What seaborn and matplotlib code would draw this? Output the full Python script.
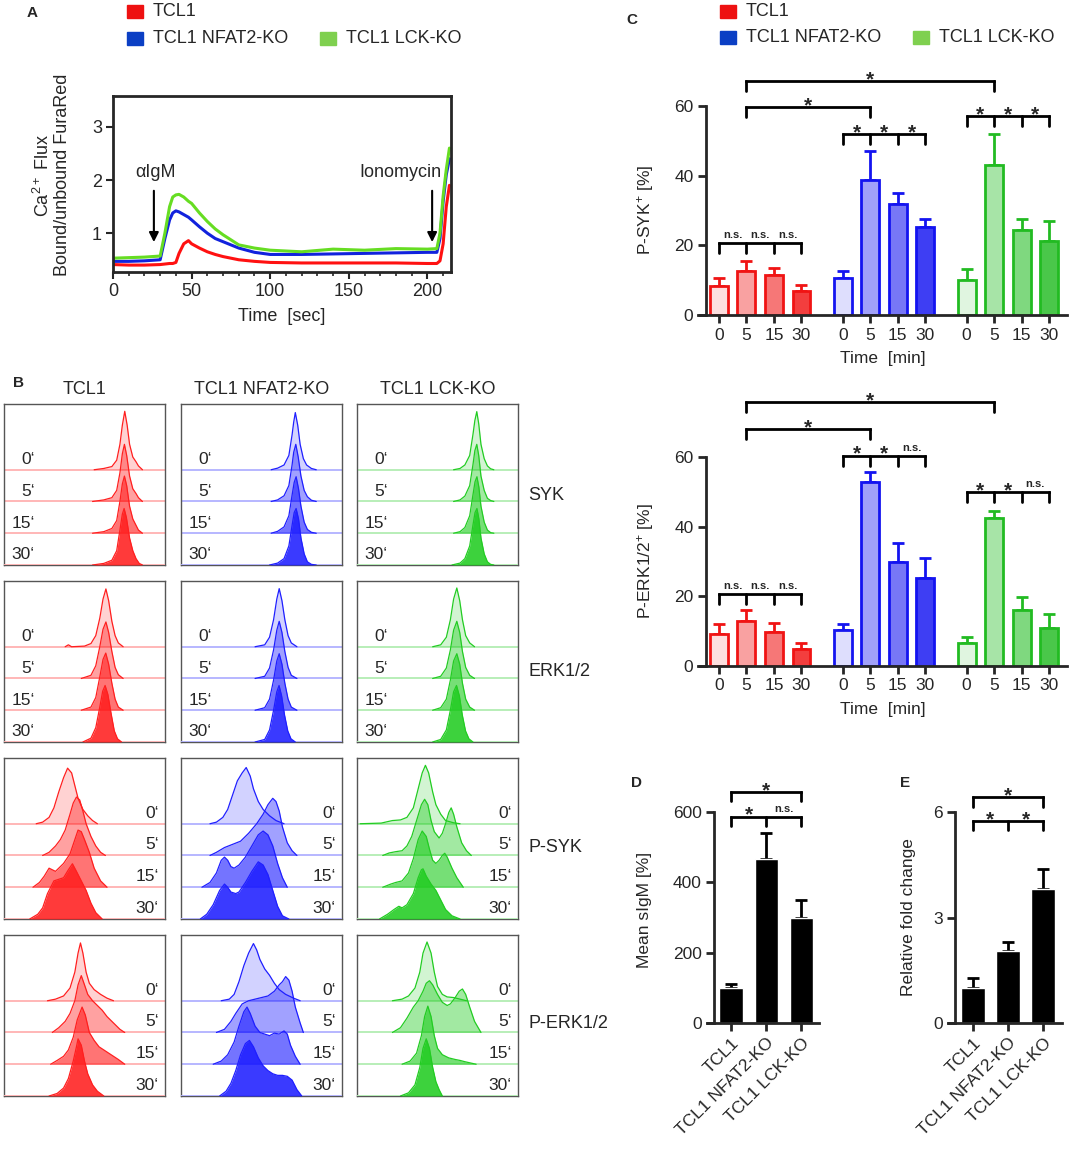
import matplotlib
matplotlib.use("Agg")
import matplotlib.pyplot as plt
from matplotlib.patches import Rectangle
from matplotlib.colors import to_rgb
import numpy as np
import seaborn as sns

W, H = 1069, 1152

# ---------------- data ----------------
GENOTYPES = ["TCL1", "TCL1 NFAT2-KO", "TCL1 LCK-KO"]
TIMES = ["0", "5", "15", "30"]
TIME_LABELS = ["0\u2018", "5\u2018", "15\u2018", "30\u2018"]
MARKERS = ["SYK", "ERK1/2", "P-SYK", "P-ERK1/2"]

# panel A: calcium flux
CA_TIME = [0, 10, 20, 30, 33, 36, 38, 40, 42, 45, 48, 50, 55, 60, 65, 70, 80, 90, 100,
           120, 140, 160, 180, 200, 206, 208, 210, 212, 214]
CA_TCL1 = [0.41, 0.40, 0.40, 0.41, 0.42, 0.43, 0.43, 0.45, 0.62, 0.80, 0.86, 0.80, 0.72, 0.65,
           0.60, 0.56, 0.50, 0.47, 0.45, 0.44, 0.44, 0.44, 0.44, 0.43, 0.43, 0.48, 0.80, 1.50, 1.90]
CA_NFAT2 = [0.47, 0.47, 0.48, 0.50, 0.90, 1.25, 1.38, 1.42, 1.40, 1.35, 1.30, 1.25, 1.12, 1.00,
            0.90, 0.84, 0.72, 0.64, 0.60, 0.60, 0.61, 0.62, 0.63, 0.64, 0.64, 0.90, 1.60, 2.10, 2.40]
CA_LCK = [0.53, 0.54, 0.55, 0.57, 1.00, 1.50, 1.68, 1.72, 1.73, 1.68, 1.60, 1.56, 1.38, 1.22,
          1.08, 0.97, 0.78, 0.72, 0.68, 0.65, 0.70, 0.68, 0.71, 0.70, 0.71, 1.00, 1.70, 2.20, 2.60]

# panel C: % positive cells (mean, sem), order TCL1 0/5/15/30, NFAT2 ..., LCK ...
PSYK_MEAN = [8.3, 12.6, 11.6, 6.9, 10.6, 38.8, 31.9, 25.4, 10.0, 43.1, 24.3, 21.2]
PSYK_SEM = [2.4, 2.8, 1.8, 1.8, 2.0, 8.3, 3.2, 2.1, 3.3, 8.9, 3.2, 5.9]
PERK_MEAN = [9.2, 13.0, 9.7, 5.0, 10.4, 52.8, 30.0, 25.2, 6.5, 42.6, 16.1, 11.0]
PERK_SEM = [2.8, 3.1, 2.6, 1.7, 1.7, 2.8, 5.4, 5.8, 1.8, 1.8, 3.7, 3.9]

# panels D / E
SIGM_MEAN = [99, 467, 300]
SIGM_SEM = [13, 73, 51]
FOLD_MEAN = [0.99, 2.04, 3.81]
FOLD_SEM = [0.29, 0.26, 0.57]

# panel B: flow histograms, 4 curves (0', 5', 15', 30') of (x %, height) points
SYK_TCL1 = [
    [(56, 0), (62, 0.04), (67, 0.1), (70, 0.3), (72, 0.8), (73.5, 1.4), (75, 1.84), (76.5, 1.4), (78, 0.8), (80, 0.4), (82, 0.25), (83.5, 0.12), (86, 0)],
    [(55, 0), (62, 0.05), (67, 0.12), (70, 0.35), (72, 0.9), (73.5, 1.5), (74.8, 1.8), (76.2, 1.45), (78, 0.8), (80, 0.4), (82, 0.25), (83.5, 0.12), (86, 0)],
    [(55, 0), (62, 0.05), (67, 0.15), (70, 0.4), (72, 1.0), (73.5, 1.55), (74.8, 1.8), (76.2, 1.5), (78, 0.85), (80, 0.45), (82, 0.25), (83.5, 0.1), (86, 0)],
    [(55, 0), (62, 0.05), (67, 0.15), (70, 0.45), (72, 1.1), (73.5, 1.6), (74.6, 1.78), (76, 1.5), (78, 0.85), (80, 0.45), (82, 0.2), (84, 0.05), (86, 0)],
]
SYK_NFAT2 = [
    [(56, 0), (60, 0.05), (64, 0.15), (67, 0.45), (69, 1.1), (70, 1.5), (71, 1.8), (72.5, 1.4), (74, 0.8), (76, 0.35), (78, 0.15), (81, 0.04), (84, 0)],
    [(56, 0), (60, 0.05), (64, 0.18), (67, 0.5), (69, 1.15), (70, 1.55), (71.3, 1.8), (72.8, 1.4), (74.5, 0.8), (76.5, 0.35), (78.5, 0.15), (81, 0.04), (84, 0)],
    [(56, 0), (60, 0.06), (64, 0.2), (67, 0.55), (69, 1.2), (70.3, 1.6), (71.5, 1.78), (73, 1.4), (74.5, 0.85), (76.5, 0.35), (78.5, 0.12), (81, 0.03), (84, 0)],
    [(55, 0), (60, 0.06), (64, 0.2), (67, 0.6), (69, 1.25), (70.3, 1.65), (71.5, 1.78), (73, 1.45), (74.5, 0.85), (76.5, 0.35), (78.5, 0.1), (81, 0.02), (84, 0)],
]
SYK_LCK = [
    [(60, 0), (64, 0.04), (67, 0.15), (70, 0.45), (72, 1.1), (73.2, 1.55), (74.4, 1.83), (75.6, 1.45), (77, 0.8), (79, 0.35), (81, 0.12), (83, 0.03), (85, 0)],
    [(60, 0), (64, 0.05), (67, 0.17), (70, 0.5), (72, 1.15), (73.2, 1.6), (74.4, 1.8), (75.6, 1.45), (77, 0.8), (79, 0.35), (81, 0.1), (83, 0.03), (85, 0)],
    [(60, 0), (64, 0.05), (67, 0.18), (70, 0.55), (72, 1.2), (73.3, 1.62), (74.5, 1.78), (75.7, 1.45), (77, 0.85), (79, 0.35), (81, 0.1), (83, 0.02), (85, 0)],
    [(59, 0), (64, 0.06), (67, 0.2), (70, 0.6), (72, 1.25), (73.3, 1.65), (74.5, 1.78), (75.7, 1.45), (77, 0.85), (79, 0.35), (81, 0.1), (83, 0.02), (85, 0)],
]
ERK_TCL1 = [
    [(38, 0), (40, 0.06), (42, 0), (50, 0.02), (54, 0.1), (57, 0.35), (59.5, 0.9), (61.5, 1.5), (63.3, 1.82), (65, 1.45), (67, 0.8), (69, 0.35), (71, 0.12), (74, 0)],
    [(48, 0), (54, 0.1), (57, 0.4), (59.5, 1.0), (61.5, 1.55), (63.3, 1.78), (65, 1.45), (67, 0.85), (69, 0.35), (71, 0.12), (74, 0)],
    [(48, 0), (54, 0.1), (57, 0.4), (59.5, 1.05), (61.5, 1.6), (63.2, 1.8), (65, 1.45), (67, 0.85), (69, 0.35), (71, 0.1), (74, 0)],
    [(49, 0), (54, 0.12), (57, 0.45), (59.5, 1.1), (61.3, 1.6), (62.8, 1.78), (64.5, 1.5), (66.5, 0.9), (68.5, 0.35), (70.5, 0.1), (73, 0)],
]
ERK_NFAT2 = [
    [(46, 0), (52, 0.06), (55, 0.3), (57.5, 0.85), (59.5, 1.5), (61, 1.83), (62.7, 1.45), (64.5, 0.85), (66.5, 0.35), (68.5, 0.12), (72, 0)],
    [(46, 0), (52, 0.07), (55, 0.33), (57.5, 0.9), (59.5, 1.52), (61, 1.8), (62.7, 1.45), (64.5, 0.85), (66.5, 0.35), (68.5, 0.1), (72, 0)],
    [(46, 0), (52, 0.08), (55, 0.35), (57.5, 0.95), (59.5, 1.55), (61, 1.78), (62.7, 1.45), (64.5, 0.85), (66.5, 0.35), (68.5, 0.1), (72, 0)],
    [(46, 0), (52, 0.08), (55, 0.38), (57.5, 1.0), (59.5, 1.58), (60.9, 1.78), (62.5, 1.45), (64.3, 0.85), (66.3, 0.35), (68.3, 0.1), (71, 0)],
]
ERK_LCK = [
    [(47, 0), (52, 0.06), (55.5, 0.3), (58, 0.85), (60, 1.5), (62, 1.85), (63.8, 1.45), (65.5, 0.85), (67.5, 0.35), (70, 0.12), (73, 0)],
    [(47, 0), (52, 0.07), (55.5, 0.33), (58, 0.9), (60, 1.52), (62, 1.8), (63.8, 1.45), (65.5, 0.85), (67.5, 0.35), (70, 0.1), (73, 0)],
    [(47, 0), (52, 0.08), (55.5, 0.35), (58, 0.95), (60, 1.55), (62, 1.78), (63.8, 1.45), (65.5, 0.85), (67.5, 0.35), (70, 0.1), (73, 0)],
    [(47, 0), (52, 0.08), (55.5, 0.38), (58, 1.0), (60, 1.58), (61.8, 1.78), (63.6, 1.45), (65.4, 0.85), (67.4, 0.35), (69.5, 0.1), (72, 0)],
]
PSYK_TCL1 = [
    [(20, 0), (24, 0.05), (28, 0.2), (31, 0.5), (34, 1.0), (37, 1.45), (39.5, 1.75), (42, 1.6), (44, 1.2), (46, 0.8), (49, 0.45), (52, 0.25), (55, 0.1), (58, 0)],
    [(24, 0), (28, 0.1), (32, 0.3), (35, 0.5), (38, 0.8), (41, 1.3), (43, 1.65), (45, 1.84), (47, 1.75), (49, 1.4), (51, 1.0), (54, 0.6), (57, 0.3), (60, 0.1), (63, 0)],
    [(18, 0), (22, 0.15), (25, 0.35), (28, 0.6), (30, 0.55), (32, 0.5), (34, 0.6), (37, 0.75), (41, 1.05), (44, 1.5), (46, 1.8), (48, 1.75), (50, 1.5), (53, 1.1), (56, 0.6), (60, 0.2), (64, 0)],
    [(16, 0), (21, 0.15), (24, 0.35), (27, 0.8), (31, 1.2), (34, 1.25), (37, 1.3), (40, 1.55), (42.5, 1.74), (45, 1.5), (48, 1.2), (51, 0.9), (54, 0.5), (57, 0.2), (61, 0)],
]
PSYK_NFAT2 = [
    [(18, 0), (22, 0.05), (26, 0.2), (29, 0.45), (32, 0.9), (35, 1.35), (38, 1.6), (40.5, 1.77), (43, 1.5), (45, 1.1), (48, 0.7), (51, 0.45), (55, 0.25), (59, 0.1), (64, 0)],
    [(18, 0), (22, 0.1), (27, 0.25), (32, 0.35), (37, 0.45), (42, 0.7), (47, 1.0), (51, 1.3), (54, 1.6), (57, 1.8), (59, 1.7), (61, 1.4), (63, 0.9), (66, 0.4), (69, 0.15), (72, 0)],
    [(13, 0), (18, 0.15), (22, 0.45), (25, 0.85), (27, 0.95), (29, 0.85), (31, 0.65), (33, 0.6), (36, 0.7), (40, 0.95), (44, 1.3), (48, 1.65), (51, 1.77), (54, 1.65), (57, 1.3), (60, 0.75), (63, 0.3), (66, 0)],
    [(12, 0), (16, 0.15), (20, 0.45), (24, 0.9), (27, 1.1), (29, 1.0), (31, 0.85), (34, 0.8), (36, 0.85), (40, 1.15), (44, 1.5), (48, 1.8), (51, 1.7), (54, 1.4), (57, 0.9), (60, 0.4), (63, 0.1), (67, 0)],
]
PSYK_LCK = [
    [(2, 0), (15, 0.02), (22, 0.1), (27, 0.12), (31, 0.2), (35, 0.5), (38, 1.1), (40.5, 1.6), (42.5, 1.84), (44.5, 1.6), (47, 1.0), (49, 0.6), (52, 0.3), (55, 0.1), (60, 0.03), (64, 0)],
    [(16, 0), (20, 0.08), (24, 0.12), (28, 0.15), (31, 0.3), (34, 0.6), (37, 1.1), (40, 1.6), (42, 1.77), (44, 1.6), (46, 1.1), (48, 0.75), (51, 0.55), (53, 0.7), (55, 1.0), (57, 1.35), (58.5, 1.5), (60, 1.3), (62, 0.9), (65, 0.4), (68, 0.15), (71, 0)],
    [(16, 0), (21, 0.1), (24, 0.15), (28, 0.2), (32, 0.45), (35, 0.9), (38, 1.5), (40.5, 1.77), (43, 1.6), (45, 1.2), (47, 0.85), (49, 0.75), (51, 0.85), (53, 1.0), (54.5, 1.07), (56, 0.95), (59, 0.6), (62, 0.3), (66, 0)],
    [(14, 0), (19, 0.15), (23, 0.3), (26, 0.4), (28, 0.35), (31, 0.45), (35, 0.8), (38, 1.3), (40, 1.55), (41, 1.58), (43, 1.35), (46, 1.1), (49, 0.9), (52, 0.6), (55, 0.3), (59, 0.1), (64, 0)],
]
PERK_TCL1 = [
    [(27, 0), (32, 0.05), (37, 0.15), (41, 0.4), (44, 0.9), (46, 1.5), (47.5, 1.82), (49, 1.5), (51, 0.9), (53, 0.55), (56, 0.35), (60, 0.2), (64, 0.08), (68, 0)],
    [(30, 0), (34, 0.15), (38, 0.35), (41, 0.6), (44, 1.0), (46, 1.5), (48, 1.79), (50, 1.5), (52, 1.2), (55, 1.0), (58, 0.85), (61, 0.7), (64, 0.5), (68, 0.3), (72, 0.1), (75, 0)],
    [(29, 0), (33, 0.12), (37, 0.25), (40, 0.45), (43, 0.85), (45.5, 1.4), (48.5, 1.8), (50.5, 1.55), (53, 1.0), (56, 0.75), (59, 0.55), (62, 0.45), (65, 0.35), (68, 0.25), (71, 0.15), (75, 0)],
    [(28, 0), (33, 0.08), (37, 0.25), (40, 0.55), (43, 1.1), (45, 1.55), (46, 1.8), (48, 1.6), (50, 1.1), (52, 0.7), (55, 0.35), (58, 0.15), (62, 0)],
]
PERK_NFAT2 = [
    [(25, 0), (30, 0.05), (33, 0.2), (36, 0.6), (39, 1.1), (42, 1.5), (45, 1.8), (47, 1.6), (49, 1.3), (52, 1.0), (55, 0.8), (58, 0.55), (61, 0.35), (65, 0.2), (70, 0.08), (74, 0)],
    [(22, 0), (27, 0.1), (31, 0.35), (34, 0.6), (38, 0.9), (42, 1.0), (46, 1.05), (50, 1.1), (54, 1.15), (58, 1.3), (61, 1.5), (63, 1.6), (65, 1.76), (67, 1.65), (69, 1.3), (71, 0.8), (74, 0.3), (76, 0)],
    [(20, 0), (25, 0.1), (29, 0.3), (33, 0.7), (36, 1.2), (39, 1.65), (41, 1.8), (43, 1.6), (46, 1.2), (49, 1.0), (52, 0.95), (55, 0.9), (58, 0.98), (61, 0.95), (64, 1.05), (66, 0.95), (68, 0.6), (71, 0.25), (74, 0)],
    [(24, 0), (28, 0.15), (31, 0.4), (34, 0.8), (37, 1.3), (40, 1.65), (42.5, 1.75), (45, 1.55), (48, 1.2), (51, 0.95), (54, 0.8), (57, 0.7), (60, 0.65), (63, 0.65), (66, 0.62), (69, 0.5), (72, 0.2), (75, 0)],
]
PERK_LCK = [
    [(22, 0), (28, 0.05), (32, 0.15), (36, 0.4), (39, 0.9), (41, 1.5), (43.5, 1.85), (46, 1.5), (48, 0.9), (50, 0.45), (53, 0.2), (56, 0.12), (60, 0.1), (64, 0.05), (68, 0)],
    [(22, 0), (27, 0.15), (31, 0.45), (35, 0.8), (38, 1.0), (41, 1.3), (43, 1.55), (45, 1.63), (47, 1.5), (50, 1.2), (53, 0.95), (56, 0.85), (58, 0.9), (61, 1.1), (63.5, 1.3), (65.5, 1.37), (67.5, 1.2), (70, 0.8), (73, 0.35), (77, 0)],
    [(28, 0), (33, 0.1), (37, 0.35), (40, 0.9), (42, 1.5), (44, 1.83), (46, 1.5), (48, 0.9), (50, 0.5), (53, 0.3), (57, 0.2), (61, 0.15), (64, 0.12), (67, 0.08), (74, 0)],
    [(27, 0), (32, 0.1), (36, 0.35), (39, 0.9), (41, 1.5), (43, 1.8), (45, 1.5), (47, 0.9), (49, 0.45), (51, 0.2), (53, 0)],
]
HIST_ROWS = [
    [SYK_TCL1, SYK_NFAT2, SYK_LCK],
    [ERK_TCL1, ERK_NFAT2, ERK_LCK],
    [PSYK_TCL1, PSYK_NFAT2, PSYK_LCK],
    [PERK_TCL1, PERK_NFAT2, PERK_LCK],
]

# ---------------- style ----------------
sns.set_style("ticks")
plt.rcParams["font.family"] = ["Liberation Sans", "DejaVu Sans"]
plt.rcParams["mathtext.default"] = "regular"
plt.rcParams["axes.linewidth"] = 1.6

LEG_COLORS = ["#ee1111", "#0b3fc4", "#7fd04f"]
LINE_COLORS = ["#ff1111", "#1122dd", "#66dd22"]
BAR_EDGES = ["#f01414", "#1414f0", "#22bb22"]
HIST_COLORS = ["#ff1f1f", "#1f1fff", "#22cc22"]
BAR_ALPHA = [0.14, 0.4, 0.58, 0.82]
HIST_ALPHA = [0.2, 0.42, 0.62, 0.88]


def px_axes(fig, left, top, right, bottom):
    return fig.add_axes([left / W, 1 - bottom / H, (right - left) / W, (bottom - top) / H])


def ftext(fig, x, y, s, **kw):
    return fig.text(x / W, 1 - y / H, s, **kw)


def mix(color, a):
    c = np.array(to_rgb(color))
    return tuple(1 - a * (1 - c))


def legend_row(fig, x, y, color, label):
    fig.add_artist(Rectangle((x / W, 1 - (y + 13) / H), 16 / W, 13 / H,
                             transform=fig.transFigure, color=color))
    ftext(fig, x + 26, y + 6.5, label, fontsize=13, va="center", ha="left")


def bracket(ax, xs, y, tip, labels, star=15, ns=8):
    ax.plot([xs[0], xs[-1]], [y, y], color="k", lw=2, clip_on=False, solid_capstyle="projecting")
    for x in xs:
        ax.plot([x, x], [y, y - tip], color="k", lw=2, clip_on=False)
    for a, b, lab in zip(xs[:-1], xs[1:], labels):
        if lab == "*":
            ax.annotate(lab, ((a + b) / 2, y), xytext=(0, -3), textcoords="offset points",
                        ha="center", va="baseline", fontsize=star, fontweight="bold",
                        annotation_clip=False)
        else:
            ax.annotate(lab, ((a + b) / 2, y), xytext=(0, 2), textcoords="offset points",
                        ha="center", va="bottom", fontsize=ns, fontweight="bold",
                        annotation_clip=False)


fig = plt.figure(figsize=(W / 100, H / 100), dpi=100)

# ---------------- panel A ----------------
axA = px_axes(fig, 113, 96, 451, 272)
for vals, col in zip([CA_TCL1, CA_NFAT2, CA_LCK], LINE_COLORS):
    sns.lineplot(x=CA_TIME, y=vals, color=col, lw=2.2, ax=axA)
axA.set_xlim(0, 215)
axA.set_ylim(0.27, 3.58)
axA.set_xticks([0, 50, 100, 150, 200])
axA.set_xticks(range(0, 215, 10), minor=True)
axA.set_yticks([1, 2, 3])
axA.tick_params(which="major", length=5, width=1.5, labelsize=13, pad=3)
axA.tick_params(which="minor", length=3, width=1.2)
for s in axA.spines.values():
    s.set_linewidth(2)
axA.set_xlabel("Time  [sec]", fontsize=13, labelpad=6)
axA.annotate("", xy=(26, 0.78), xytext=(26, 1.85),
             arrowprops=dict(arrowstyle="-|>", lw=1.5, color="k", mutation_scale=14))
axA.annotate("", xy=(203, 0.78), xytext=(203, 1.85),
             arrowprops=dict(arrowstyle="-|>", lw=1.5, color="k", mutation_scale=14))
axA.text(27, 2.15, "\u03b1IgM", fontsize=13, ha="center", va="center")
axA.text(183, 2.15, "Ionomycin", fontsize=13, ha="center", va="center")
ftext(fig, 52, 175, "Ca$^{2+}$ Flux\nBound/unbound FuraRed", rotation=90,
      ha="center", va="center", fontsize=13, linespacing=1.05)

legend_row(fig, 127, 5, LEG_COLORS[0], GENOTYPES[0])
legend_row(fig, 127, 32, LEG_COLORS[1], GENOTYPES[1])
legend_row(fig, 320, 32, LEG_COLORS[2], GENOTYPES[2])

# ---------------- panel B ----------------
cols_px = [(4, 165), (181, 342), (357, 518)]
rows_px = [(404, 565), (581, 742), (758, 919), (935, 1096)]
row_label_y = [495, 672, 847, 1023]
for r, (top, bottom) in enumerate(rows_px):
    for c, (left, right) in enumerate(cols_px):
        ax = px_axes(fig, left, top, right, bottom)
        col = HIST_COLORS[c]
        for k, curve in enumerate(HIST_ROWS[r][c]):
            base = 3 - k
            xs = [p[0] for p in curve]
            hs = [base + p[1] for p in curve]
            ax.axhline(base, color=mix(col, 0.35), lw=1.3, zorder=k)
            ax.fill_between(xs, base, hs, color=col, alpha=HIST_ALPHA[k], lw=0, zorder=k + 0.1)
            ax.plot(xs, hs, color=col, lw=0.9, zorder=k + 0.2)
            if r < 2:
                ax.text(19, base + 0.08, TIME_LABELS[k], ha="right", va="bottom", fontsize=12.5)
            else:
                ax.text(96, base + 0.1, TIME_LABELS[k], ha="right", va="bottom", fontsize=12.5)
        ax.set_xlim(0, 100)
        ax.set_ylim(0, 5.07)
        ax.set_xticks([])
        ax.set_yticks([])
        for s in ax.spines.values():
            s.set_color("#555555")
            s.set_linewidth(1)
        if r == 0:
            ftext(fig, (left + right) / 2, 389, GENOTYPES[c], ha="center", va="center", fontsize=13)
    ftext(fig, 528, row_label_y[r], MARKERS[r], ha="left", va="center", fontsize=13)

# ---------------- panel C ----------------
pos = [g * 4.5 + i for g in range(3) for i in range(4)]
fills = [mix(BAR_EDGES[g], BAR_ALPHA[i]) for g in range(3) for i in range(4)]
edges = [BAR_EDGES[g] for g in range(3) for i in range(4)]


def c_panel(ax, means, sems):
    sns.barplot(x=pos, y=means, native_scale=True, width=0.65, errorbar=None, ax=ax)
    for p in ax.patches:
        cx = p.get_x() + p.get_width() / 2
        k = int(np.argmin([abs(cx - q) for q in pos]))
        p.set_facecolor(fills[k])
        p.set_edgecolor(edges[k])
        p.set_linewidth(2)
        p.set_zorder(2)
    for k in range(len(pos)):
        ax.errorbar(pos[k], means[k], yerr=[[0], [sems[k]]], fmt="none", ecolor=edges[k],
                    elinewidth=2, capsize=4.5, capthick=2, zorder=1)
    ax.set_xlim(-0.76, 12.65)
    ax.set_ylim(0, 60)
    ax.set_yticks([0, 20, 40, 60])
    ax.set_xticks(pos)
    ax.set_xticklabels(TIMES * 3)
    sns.despine(ax=ax)
    ax.spines["left"].set_position(("data", -0.47))
    for s in ax.spines.values():
        s.set_linewidth(2)
    ax.tick_params(length=6, width=2, labelsize=12.5, pad=3)
    ax.set_xlabel("Time  [min]", fontsize=12.5, labelpad=6)
    ax.set_ylabel("")


axC1 = px_axes(fig, 698, 106, 1067, 315)
c_panel(axC1, PSYK_MEAN, PSYK_SEM)
ftext(fig, 645, 210, "P-SYK$^{+}$ [%]", rotation=90, ha="center", va="center", fontsize=12.5)
bracket(axC1, pos[0:4], 20.6, 2.9, ["n.s."] * 3)
bracket(axC1, pos[4:8], 52.0, 2.9, ["*"] * 3)
bracket(axC1, pos[8:12], 57.2, 2.9, ["*"] * 3)
bracket(axC1, [pos[1], pos[5]], 59.6, 2.9, ["*"])
bracket(axC1, [pos[1], pos[9]], 67.2, 2.9, ["*"])

axC2 = px_axes(fig, 698, 457, 1067, 666)
c_panel(axC2, PERK_MEAN, PERK_SEM)
ftext(fig, 645, 561, "P-ERK1/2$^{+}$ [%]", rotation=90, ha="center", va="center", fontsize=12.5)
bracket(axC2, pos[0:4], 20.7, 2.9, ["n.s."] * 3)
bracket(axC2, pos[4:8], 60.4, 2.9, ["*", "*", "n.s."])
bracket(axC2, pos[8:12], 50.0, 2.9, ["*", "*", "n.s."])
bracket(axC2, [pos[1], pos[5]], 68.1, 2.9, ["*"])
bracket(axC2, [pos[1], pos[9]], 75.7, 2.9, ["*"])

legend_row(fig, 720, 5, LEG_COLORS[0], GENOTYPES[0])
legend_row(fig, 720, 31, LEG_COLORS[1], GENOTYPES[1])
legend_row(fig, 913, 31, LEG_COLORS[2], GENOTYPES[2])

# ---------------- panels D, E ----------------


def de_panel(ax, means, sems, ymax, yticks, spine_x):
    sns.barplot(x=GENOTYPES, y=means, color="black", saturation=1, width=0.67,
                errorbar=None, ax=ax)
    for p in ax.patches:
        p.set_zorder(2)
    ax.errorbar([0, 1, 2], means, yerr=[[0, 0, 0], sems], fmt="none", ecolor="black",
                elinewidth=2, capsize=4.5, capthick=2, zorder=1)
    ax.set_ylim(0, ymax)
    ax.set_yticks(yticks)
    ax.set_xticks([0, 1, 2])
    ax.set_xticklabels(GENOTYPES, rotation=45, ha="right", va="top", rotation_mode="anchor")
    sns.despine(ax=ax)
    ax.spines["left"].set_position(("data", spine_x))
    for s in ax.spines.values():
        s.set_linewidth(2)
    ax.tick_params(length=6, width=2, labelsize=12.5, pad=3)
    ax.set_ylabel("")


axD = px_axes(fig, 707, 812, 819, 1023)
de_panel(axD, SIGM_MEAN, SIGM_SEM, 600, [0, 200, 400, 600], -0.49)
axD.set_xlim(-0.69, 2.5)
ftext(fig, 644, 910, "Mean sIgM [%]", rotation=90, ha="center", va="center", fontsize=12.5)
bracket(axD, [0, 1, 2], 587, 27, ["*", "n.s."])
bracket(axD, [0, 2], 657, 27, ["*"])

axE = px_axes(fig, 948, 812, 1062, 1023)
de_panel(axE, FOLD_MEAN, FOLD_SEM, 6, [0, 3, 6], -0.51)
axE.set_xlim(-0.71, 2.54)
ftext(fig, 909, 917, "Relative fold change", rotation=90, ha="center", va="center", fontsize=12.5)
bracket(axE, [0, 1, 2], 5.75, 0.27, ["*", "*"])
bracket(axE, [0, 2], 6.42, 0.27, ["*"])

# panel letters
for letter, x, y in [("A", 32, 13), ("B", 18, 383), ("C", 632, 20), ("D", 637, 783), ("E", 905, 783)]:
    ftext(fig, x, y, letter, ha="center", va="center", fontsize=11, fontweight="bold")

fig.savefig("out.png", dpi=100)
